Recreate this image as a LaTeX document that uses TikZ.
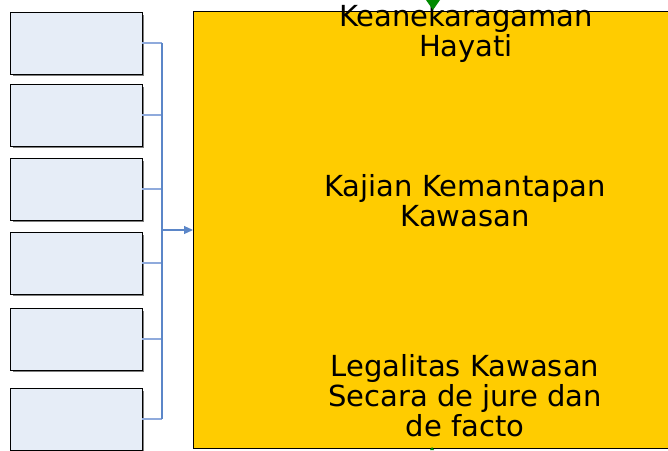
\documentclass[tikz,border=0pt]{standalone}
\usepackage{fontspec}
\setmainfont{DejaVu Sans}
\usetikzlibrary{arrows.meta}
\definecolor{boxfill}{HTML}{E6EDF7}
\definecolor{shadowc}{HTML}{7F7F7F}
\definecolor{stubc}{HTML}{8FAADC}
\definecolor{busc}{HTML}{5B86C8}
\definecolor{gold}{HTML}{FFCC00}
\definecolor{dgreen}{HTML}{008A00}
\tikzset{
  src/.style={draw=black, line width=1pt, fill=boxfill, minimum width=132pt, minimum height=62pt, inner sep=0pt, outer sep=0pt, anchor=north west},
  stub/.style={draw=stubc, line width=1.2pt},
  bus/.style={draw=busc, line width=1.2pt},
  lbl/.style={font=\fontsize{29}{30}\selectfont, align=center, text=black, inner sep=0pt},
}
\begin{document}
\begin{tikzpicture}[x=1pt,y=-1pt]
\useasboundingbox (0,0) rectangle (668,450);
\clip (0,0) rectangle (668,450);
% yellow panel
\node[draw=black, line width=1pt, fill=gold, anchor=north west, minimum width=485pt, minimum height=437pt, inner sep=0pt, outer sep=0pt] (panel) at (193,11) {};
% source boxes with shadows
\foreach \y [count=\i] in {12,84,158,232,308,388} {
  \fill[shadowc] (12.5,\y+2.5) rectangle (144,\y+64);
  \node[src] (b\i) at (10,\y) {};
}
\coordinate (busx) at (162,0);
\foreach \i in {1,...,6} {
  \coordinate (j\i) at (b\i.east -| busx);
  \draw[stub] (b\i.east) -- (j\i);
}
\draw[bus] (j1) -- (j6);
\coordinate (arrs) at (162,230);
\draw[bus, -{Triangle[length=9pt,width=8pt]}] (arrs) -- (arrs -| panel.west);
% labels
\node[lbl, anchor=base] (t1) at (466,56) {Keanekaragaman\\Hayati};
\node[lbl, anchor=base] (t2) at (465,226) {Kajian Kemantapan\\Kawasan};
\node[lbl, anchor=base] (t3) at (465,436) {Legalitas Kawasan\\Secara de jure dan\\de facto};
% green arrow tips
\coordinate (gtop) at (433,10);
\fill[dgreen] (gtop) -- ++(-7,-10) -- ++(14,0) -- cycle;
\coordinate (gbot) at (432,447);
\fill[dgreen] (gbot) -- ++(-2,3) -- ++(4,0) -- cycle;
\end{tikzpicture}
\end{document}
